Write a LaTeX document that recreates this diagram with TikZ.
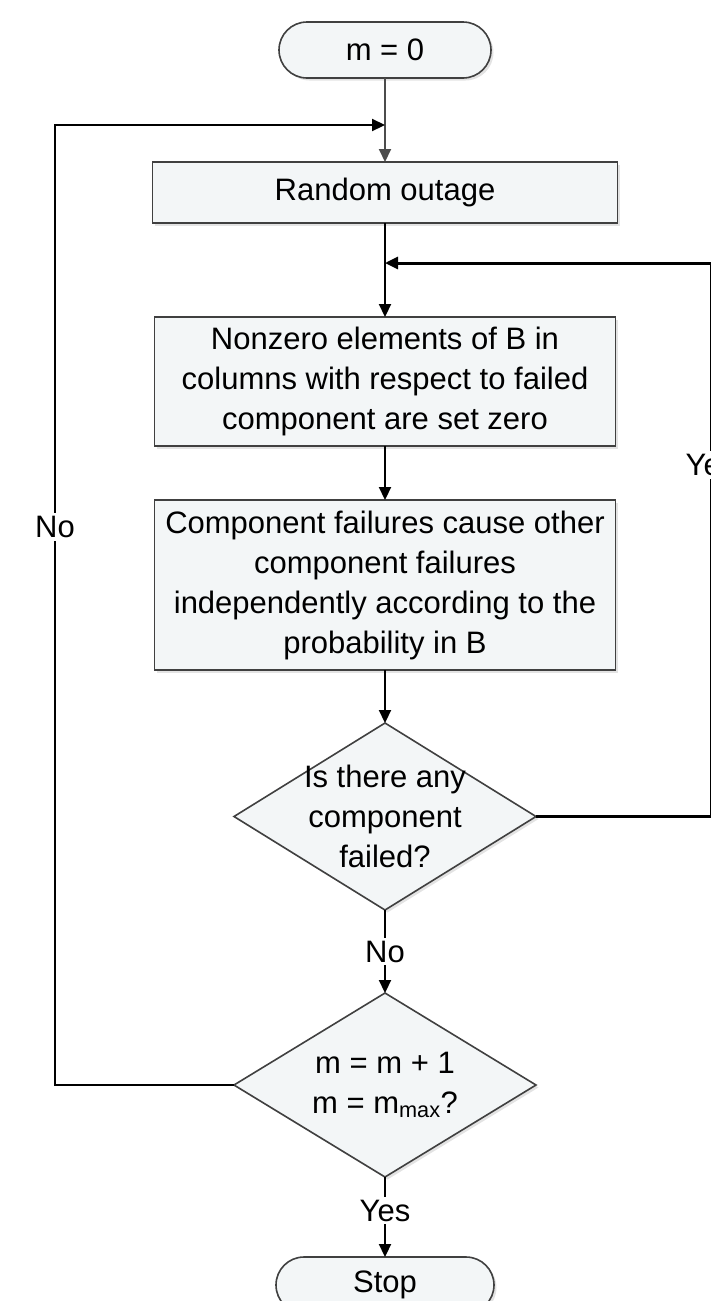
\documentclass[tikz,border=0pt]{standalone}
\usepackage{fontspec}
\setmainfont{Liberation Sans}
\usepackage{xcolor}
\usepackage{tikz}
\usetikzlibrary{shapes, arrows.meta, positioning, shadows}

\definecolor{boxfill}{HTML}{F3F6F7}
\definecolor{boxline}{HTML}{404040}

\begin{document}
\begin{tikzpicture}[
        x=1pt, y=-1pt,
        font=\fontsize{31}{40}\selectfont,
        >={Triangle[length=13pt,width=12pt]},
        block/.style={rectangle, draw=boxline, line width=1.6pt, fill=boxfill, align=center, inner sep=0pt, outer sep=0pt,
            drop shadow={shadow xshift=2.5pt, shadow yshift=-2.5pt, fill=black!22}},
        terminal/.style={block, rounded corners=28pt, minimum height=56pt},
        decision/.style={block, diamond, minimum width=302pt},
        flow/.style={->, line width=2.2pt},
        answer/.style={fill=white, inner sep=3pt}
    ]
        \useasboundingbox (0,0) rectangle (711,1301);
        \clip (0,0) rectangle (711,1301);

        \node[terminal, minimum width=212pt] (start) at (385,50) {m = 0};
        \node[block, minimum width=465pt, minimum height=61pt, below=84pt of start] (outage) {Random outage};
        \node[block, minimum width=461pt, minimum height=129pt, below=94pt of outage] (zeroing)
            {Nonzero elements of B in\\columns with respect to failed\\component are set zero};
        \node[block, minimum width=461pt, minimum height=170pt, below=54pt of zeroing] (spread)
            {Component failures cause other\\component failures\\independently according to the\\probability in B};
        \node[decision, minimum height=187pt, below=53pt of spread,
            label={[align=center]center:Is there any\\component\\failed?}] (anyfail) {};
        \node[decision, minimum height=184pt, below=83pt of anyfail,
            label={[align=center]center:m = m + 1\\m = m\textsubscript{max}?}] (counter) {};
        \node[terminal, minimum width=218pt, below=80pt of counter] (stop) {Stop};

        % loop corners
        \coordinate (entry) at (385,125);
        \coordinate (ltop) at (55,125);
        \coordinate (join) at (385,263);
        \coordinate (rtop) at (711,263);

        % main flow
        \draw[flow, black!70, line width=2pt] (start) -- (outage);
        \draw[flow] (outage) -- (zeroing);
        \draw[flow] (zeroing) -- (spread);
        \draw[flow] (spread) -- (anyfail);
        \draw[flow] (anyfail) -- node[answer] {No} (counter);
        \draw[flow] (counter) -- node[answer, pos=0.42] {Yes} (stop);

        % repeat while components keep failing
        \draw[flow, line width=3pt] (anyfail.east) -- (anyfail.east -| rtop) -- node[answer, pos=0.635] {Yes} (rtop) -- (join);

        % next outage
        \draw[flow] (counter.west) -- (counter.west -| ltop) -- node[answer, pos=0.581] {No} (ltop) -- (entry);

    \end{tikzpicture}
\end{document}
